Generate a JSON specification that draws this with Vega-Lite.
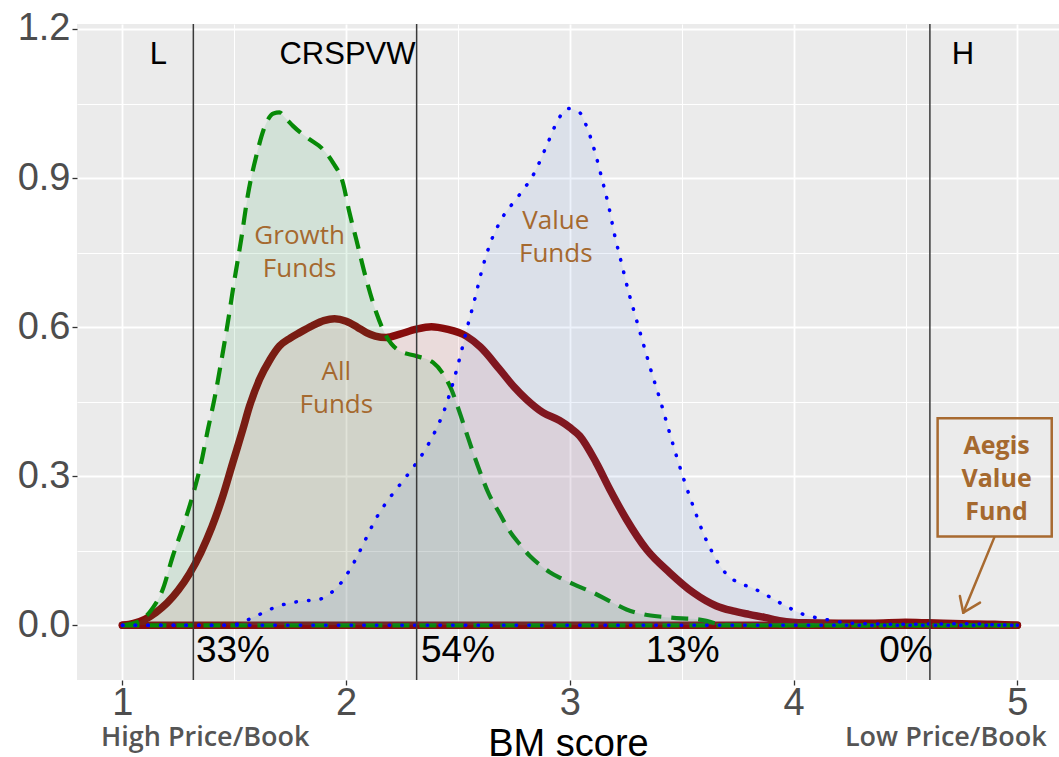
{
  "$schema": "https://vega.github.io/schema/vega-lite/v6.json",
  "width": 982,
  "height": 656,
  "autosize": {"type": "none"},
  "padding": {"left": 77, "top": 24, "right": 0, "bottom": 77},
  "background": "white",
  "config": {"view": {"fill": "#ebebeb", "stroke": null}, "font": "Liberation Sans"},
  "datasets": {
    "dens": [
      {"s":"All","x":1.0,"y":0},{"s":"All","x":1.05,"y":0.004},{"s":"All","x":1.1,"y":0.012},{"s":"All","x":1.15,"y":0.026},{"s":"All","x":1.2,"y":0.045},{"s":"All","x":1.25,"y":0.071},{"s":"All","x":1.3,"y":0.104},{"s":"All","x":1.35,"y":0.146},{"s":"All","x":1.4,"y":0.198},{"s":"All","x":1.45,"y":0.262},{"s":"All","x":1.493,"y":0.327},{"s":"All","x":1.538,"y":0.394},{"s":"All","x":1.568,"y":0.441},{"s":"All","x":1.613,"y":0.495},{"s":"All","x":1.66,"y":0.535},{"s":"All","x":1.702,"y":0.562},{"s":"All","x":1.75,"y":0.578},{"s":"All","x":1.792,"y":0.589},{"s":"All","x":1.85,"y":0.603},{"s":"All","x":1.9,"y":0.613},{"s":"All","x":1.948,"y":0.617},{"s":"All","x":2.0,"y":0.612},{"s":"All","x":2.05,"y":0.6},{"s":"All","x":2.09,"y":0.589},{"s":"All","x":2.13,"y":0.582},{"s":"All","x":2.179,"y":0.579},{"s":"All","x":2.24,"y":0.586},{"s":"All","x":2.313,"y":0.596},{"s":"All","x":2.381,"y":0.601},{"s":"All","x":2.45,"y":0.596},{"s":"All","x":2.537,"y":0.582},{"s":"All","x":2.6,"y":0.56},{"s":"All","x":2.686,"y":0.515},{"s":"All","x":2.75,"y":0.48},{"s":"All","x":2.805,"y":0.455},{"s":"All","x":2.88,"y":0.428},{"s":"All","x":2.954,"y":0.412},{"s":"All","x":3.0,"y":0.398},{"s":"All","x":3.044,"y":0.381},{"s":"All","x":3.118,"y":0.327},{"s":"All","x":3.178,"y":0.274},{"s":"All","x":3.253,"y":0.213},{"s":"All","x":3.342,"y":0.153},{"s":"All","x":3.446,"y":0.106},{"s":"All","x":3.551,"y":0.066},{"s":"All","x":3.655,"y":0.039},{"s":"All","x":3.728,"y":0.029},{"s":"All","x":3.8,"y":0.022},{"s":"All","x":3.87,"y":0.016},{"s":"All","x":3.944,"y":0.009},{"s":"All","x":4.05,"y":0.005},{"s":"All","x":4.2,"y":0.004},{"s":"All","x":4.35,"y":0.004},{"s":"All","x":4.5,"y":0.006},{"s":"All","x":4.6,"y":0.005},{"s":"All","x":4.75,"y":0.003},{"s":"All","x":4.9,"y":0.002},{"s":"All","x":5.0,"y":0},
      {"s":"Growth","x":1.0,"y":0},{"s":"Growth","x":1.05,"y":0.004},{"s":"Growth","x":1.1,"y":0.016},{"s":"Growth","x":1.136,"y":0.035},{"s":"Growth","x":1.18,"y":0.072},{"s":"Growth","x":1.225,"y":0.139},{"s":"Growth","x":1.277,"y":0.207},{"s":"Growth","x":1.322,"y":0.274},{"s":"Growth","x":1.352,"y":0.327},{"s":"Growth","x":1.382,"y":0.394},{"s":"Growth","x":1.411,"y":0.455},{"s":"Growth","x":1.441,"y":0.529},{"s":"Growth","x":1.471,"y":0.609},{"s":"Growth","x":1.501,"y":0.696},{"s":"Growth","x":1.531,"y":0.777},{"s":"Growth","x":1.56,"y":0.864},{"s":"Growth","x":1.598,"y":0.944},{"s":"Growth","x":1.643,"y":1.011},{"s":"Growth","x":1.675,"y":1.03},{"s":"Growth","x":1.702,"y":1.032},{"s":"Growth","x":1.73,"y":1.02},{"s":"Growth","x":1.762,"y":1.005},{"s":"Growth","x":1.8,"y":0.99},{"s":"Growth","x":1.836,"y":0.978},{"s":"Growth","x":1.896,"y":0.958},{"s":"Growth","x":1.941,"y":0.931},{"s":"Growth","x":1.985,"y":0.891},{"s":"Growth","x":2.015,"y":0.83},{"s":"Growth","x":2.045,"y":0.777},{"s":"Growth","x":2.09,"y":0.696},{"s":"Growth","x":2.135,"y":0.629},{"s":"Growth","x":2.179,"y":0.582},{"s":"Growth","x":2.239,"y":0.552},{"s":"Growth","x":2.313,"y":0.542},{"s":"Growth","x":2.388,"y":0.529},{"s":"Growth","x":2.448,"y":0.495},{"s":"Growth","x":2.47,"y":0.475},{"s":"Growth","x":2.506,"y":0.43},{"s":"Growth","x":2.537,"y":0.388},{"s":"Growth","x":2.589,"y":0.32},{"s":"Growth","x":2.638,"y":0.264},{"s":"Growth","x":2.686,"y":0.225},{"s":"Growth","x":2.73,"y":0.19},{"s":"Growth","x":2.776,"y":0.163},{"s":"Growth","x":2.82,"y":0.14},{"s":"Growth","x":2.865,"y":0.122},{"s":"Growth","x":2.91,"y":0.107},{"s":"Growth","x":2.954,"y":0.096},{"s":"Growth","x":3.03,"y":0.08},{"s":"Growth","x":3.103,"y":0.066},{"s":"Growth","x":3.18,"y":0.048},{"s":"Growth","x":3.253,"y":0.032},{"s":"Growth","x":3.33,"y":0.022},{"s":"Growth","x":3.416,"y":0.017},{"s":"Growth","x":3.5,"y":0.014},{"s":"Growth","x":3.551,"y":0.013},{"s":"Growth","x":3.61,"y":0.009},{"s":"Growth","x":3.65,"y":0.004},{"s":"Growth","x":3.7,"y":0.001},{"s":"Growth","x":3.8,"y":0},{"s":"Growth","x":5.0,"y":0},
      {"s":"Value","x":1.0,"y":0},{"s":"Value","x":1.45,"y":0},{"s":"Value","x":1.508,"y":0.002},{"s":"Value","x":1.57,"y":0.013},{"s":"Value","x":1.632,"y":0.026},{"s":"Value","x":1.686,"y":0.037},{"s":"Value","x":1.75,"y":0.045},{"s":"Value","x":1.806,"y":0.049},{"s":"Value","x":1.877,"y":0.052},{"s":"Value","x":1.934,"y":0.066},{"s":"Value","x":1.978,"y":0.086},{"s":"Value","x":2.015,"y":0.111},{"s":"Value","x":2.045,"y":0.135},{"s":"Value","x":2.075,"y":0.162},{"s":"Value","x":2.102,"y":0.187},{"s":"Value","x":2.131,"y":0.213},{"s":"Value","x":2.164,"y":0.237},{"s":"Value","x":2.202,"y":0.261},{"s":"Value","x":2.242,"y":0.284},{"s":"Value","x":2.28,"y":0.306},{"s":"Value","x":2.319,"y":0.33},{"s":"Value","x":2.354,"y":0.354},{"s":"Value","x":2.385,"y":0.379},{"s":"Value","x":2.413,"y":0.405},{"s":"Value","x":2.437,"y":0.431},{"s":"Value","x":2.458,"y":0.459},{"s":"Value","x":2.477,"y":0.487},{"s":"Value","x":2.51,"y":0.542},{"s":"Value","x":2.541,"y":0.599},{"s":"Value","x":2.574,"y":0.655},{"s":"Value","x":2.604,"y":0.71},{"s":"Value","x":2.641,"y":0.765},{"s":"Value","x":2.694,"y":0.817},{"s":"Value","x":2.771,"y":0.864},{"s":"Value","x":2.843,"y":0.912},{"s":"Value","x":2.895,"y":0.964},{"s":"Value","x":2.947,"y":1.017},{"s":"Value","x":2.989,"y":1.04},{"s":"Value","x":3.041,"y":1.033},{"s":"Value","x":3.071,"y":1.008},{"s":"Value","x":3.111,"y":0.954},{"s":"Value","x":3.144,"y":0.897},{"s":"Value","x":3.174,"y":0.842},{"s":"Value","x":3.2,"y":0.785},{"s":"Value","x":3.23,"y":0.73},{"s":"Value","x":3.261,"y":0.673},{"s":"Value","x":3.296,"y":0.617},{"s":"Value","x":3.331,"y":0.562},{"s":"Value","x":3.367,"y":0.506},{"s":"Value","x":3.405,"y":0.451},{"s":"Value","x":3.44,"y":0.396},{"s":"Value","x":3.476,"y":0.341},{"s":"Value","x":3.515,"y":0.286},{"s":"Value","x":3.558,"y":0.231},{"s":"Value","x":3.604,"y":0.177},{"s":"Value","x":3.633,"y":0.15},{"s":"Value","x":3.662,"y":0.126},{"s":"Value","x":3.7,"y":0.103},{"s":"Value","x":3.752,"y":0.086},{"s":"Value","x":3.812,"y":0.076},{"s":"Value","x":3.87,"y":0.063},{"s":"Value","x":3.928,"y":0.048},{"s":"Value","x":3.99,"y":0.033},{"s":"Value","x":4.044,"y":0.022},{"s":"Value","x":4.106,"y":0.015},{"s":"Value","x":4.167,"y":0.01},{"s":"Value","x":4.236,"y":0.005},{"s":"Value","x":4.35,"y":0.003},{"s":"Value","x":4.5,"y":0.002},{"s":"Value","x":4.7,"y":0.003},{"s":"Value","x":4.8,"y":0.003},{"s":"Value","x":4.9,"y":0.001},{"s":"Value","x":5.0,"y":0}
    ],
    "base": [
      {"s":"All","x":1,"x2":5,"y":0},
      {"s":"Growth","x":1,"x2":5,"y":0},
      {"s":"Value","x":1,"x2":5,"y":0}
    ],
    "vlines": [
      {"x":1.317,"y":-0.11,"y2":1.21},
      {"x":2.315,"y":-0.11,"y2":1.21},
      {"x":4.609,"y":-0.11,"y2":1.21}
    ],
    "labels": [
      {"g":"top","t":"L","x":1.161,"y":1.147},
      {"g":"top","t":"CRSPVW","x":2.006,"y":1.147},
      {"g":"top","t":"H","x":4.757,"y":1.147},
      {"g":"pct","t":"33%","x":1.494,"y":-0.052},
      {"g":"pct","t":"54%","x":2.5,"y":-0.052},
      {"g":"pct","t":"13%","x":3.504,"y":-0.052},
      {"g":"pct","t":"0%","x":4.502,"y":-0.052},
      {"g":"fund","t":"Growth\nFunds","x":1.792,"y":0.783},
      {"g":"fund","t":"Value\nFunds","x":2.937,"y":0.8135},
      {"g":"fund","t":"All\nFunds","x":1.956,"y":0.509},
      {"g":"aegis","t":"Aegis\nValue\nFund","x":4.907,"y":0.3608},
      {"g":"pb","t":"High Price/Book","x":1.37,"y":-0.2274},
      {"g":"pb","t":"Low Price/Book","x":4.68,"y":-0.2274}
    ],
    "box": [{"x":4.6435,"x2":5.1535,"y":0.1785,"y2":0.4165}],
    "arrow": [
      {"x":4.897,"y":0.177,"x2":4.758,"y2":0.0255},
      {"x":4.743,"y":0.059,"x2":4.758,"y2":0.0255},
      {"x":4.833,"y":0.0457,"x2":4.758,"y2":0.0255}
    ]
  },
  "encoding": {
    "x": {
      "field": "x", "type": "quantitative",
      "scale": {"domain": [0.797, 5.186], "nice": false, "zero": false},
      "axis": {
        "values": [1, 1.5, 2, 2.5, 3, 3.5, 4, 4.5, 5],
        "labelExpr": "datum.value % 1 === 0 ? format(datum.value, 'd') : ''",
        "domain": false,
        "grid": true,
        "gridColor": "#ffffff",
        "gridWidth": {"condition": {"test": "datum.value % 1 === 0", "value": 1.8}, "value": 1},
        "tickColor": "#333333",
        "tickWidth": 1.3,
        "tickOpacity": {"condition": {"test": "datum.value % 1 === 0", "value": 1}, "value": 0},
        "tickSize": 5,
        "labelFont": "Liberation Sans",
        "labelFontSize": 38,
        "labelColor": "#4d4d4d",
        "labelPadding": -1,
        "labelFlush": false,
        "labelOverlap": false,
        "title": "BM score",
        "titleFont": "Liberation Sans",
        "titleFontSize": 38,
        "titleFontWeight": "normal",
        "titleColor": "#000000",
        "titlePadding": 3
      }
    },
    "y": {
      "field": "y", "type": "quantitative",
      "scale": {"domain": [-0.11, 1.21], "nice": false, "zero": false},
      "axis": {
        "values": [0, 0.15, 0.3, 0.45, 0.6, 0.75, 0.9, 1.05, 1.2],
        "labelExpr": "round(datum.value * 100) % 30 === 0 ? format(datum.value, '.1f') : ''",
        "domain": false,
        "grid": true,
        "gridColor": "#ffffff",
        "gridWidth": {"condition": {"test": "round(datum.value * 100) % 30 === 0", "value": 1.8}, "value": 1},
        "tickColor": "#333333",
        "tickWidth": 1.3,
        "tickOpacity": {"condition": {"test": "round(datum.value * 100) % 30 === 0", "value": 1}, "value": 0},
        "tickSize": 5,
        "labelFont": "Liberation Sans",
        "labelFontSize": 38,
        "labelColor": "#4d4d4d",
        "labelPadding": 2,
        "labelFlush": false,
        "labelOverlap": false,
        "title": null
      }
    }
  },
  "layer": [
    {
      "data": {"name": "dens"},
      "transform": [{"filter": "datum.s === 'All'"}],
      "mark": {"type": "area", "fill": "#e05050", "fillOpacity": 0.1, "interpolate": "monotone"},
      "encoding": {"y2": {"datum": 0}}
    },
    {
      "data": {"name": "dens"},
      "transform": [{"filter": "datum.s === 'All'"}],
      "mark": {"type": "line", "stroke": "#860c0c", "strokeWidth": 7.5, "strokeCap": "round", "strokeJoin": "round", "interpolate": "monotone"}
    },
    {
      "data": {"name": "base"},
      "transform": [{"filter": "datum.s === 'All'"}],
      "mark": {"type": "rule", "stroke": "#860c0c", "strokeWidth": 7.5, "strokeCap": "round"},
      "encoding": {"x2": {"field": "x2"}}
    },
    {
      "data": {"name": "dens"},
      "transform": [{"filter": "datum.s === 'Growth'"}],
      "mark": {"type": "area", "fill": "#22a04a", "fillOpacity": 0.12, "interpolate": "monotone"},
      "encoding": {"y2": {"datum": 0}}
    },
    {
      "data": {"name": "dens"},
      "transform": [{"filter": "datum.s === 'Growth'"}],
      "mark": {"type": "line", "stroke": "#078a07", "strokeWidth": 4.2, "strokeDash": [17, 10], "interpolate": "monotone"}
    },
    {
      "data": {"name": "base"},
      "transform": [{"filter": "datum.s === 'Growth'"}],
      "mark": {"type": "rule", "stroke": "#078a07", "strokeWidth": 4.2, "strokeDash": [17, 10]},
      "encoding": {"x2": {"field": "x2"}}
    },
    {
      "data": {"name": "dens"},
      "transform": [{"filter": "datum.s === 'Value'"}],
      "mark": {"type": "area", "fill": "#4a7fd8", "fillOpacity": 0.1, "interpolate": "monotone"},
      "encoding": {"y2": {"datum": 0}}
    },
    {
      "data": {"name": "dens"},
      "transform": [{"filter": "datum.s === 'Value'"}],
      "mark": {"type": "line", "stroke": "#0000ff", "strokeWidth": 3.5, "strokeDash": [0.5, 12.2], "strokeCap": "round", "interpolate": "monotone"}
    },
    {
      "data": {"name": "base"},
      "transform": [{"filter": "datum.s === 'Value'"}],
      "mark": {"type": "rule", "stroke": "#0000ff", "strokeWidth": 3.5, "strokeDash": [0.5, 12.2], "strokeCap": "round"},
      "encoding": {"x2": {"field": "x2"}}
    },
    {
      "data": {"name": "vlines"},
      "mark": {"type": "rule", "stroke": "#3a3a3a", "strokeWidth": 1.5},
      "encoding": {"y2": {"field": "y2"}}
    },
    {
      "data": {"name": "labels"},
      "transform": [{"filter": "datum.g === 'top'"}],
      "mark": {"type": "text", "font": "Liberation Sans", "fontSize": 31, "color": "#000000", "align": "center", "baseline": "middle"},
      "encoding": {"text": {"field": "t"}}
    },
    {
      "data": {"name": "labels"},
      "transform": [{"filter": "datum.g === 'pct'"}],
      "mark": {"type": "text", "font": "Liberation Sans", "fontSize": 37, "color": "#000000", "align": "center", "baseline": "middle"},
      "encoding": {"text": {"field": "t"}}
    },
    {
      "data": {"name": "labels"},
      "transform": [{"filter": "datum.g === 'fund'"}],
      "mark": {"type": "text", "font": "Open Sans", "fontSize": 26, "color": "#a5692f", "align": "center", "baseline": "middle", "lineBreak": "\n", "lineHeight": 33},
      "encoding": {"text": {"field": "t"}}
    },
    {
      "data": {"name": "labels"},
      "transform": [{"filter": "datum.g === 'aegis'"}],
      "mark": {"type": "text", "font": "Open Sans", "fontSize": 25, "fontWeight": "bold", "color": "#a5692f", "align": "center", "baseline": "middle", "lineBreak": "\n", "lineHeight": 33},
      "encoding": {"text": {"field": "t"}}
    },
    {
      "data": {"name": "labels"},
      "transform": [{"filter": "datum.g === 'pb'"}],
      "mark": {"type": "text", "font": "Open Sans", "fontSize": 27, "fontWeight": 600, "color": "#555555", "align": "center", "baseline": "middle"},
      "encoding": {"text": {"field": "t"}}
    },
    {
      "data": {"name": "box"},
      "mark": {"type": "rect", "fill": null, "fillOpacity": 0, "stroke": "#a86a30", "strokeWidth": 2.5},
      "encoding": {"x2": {"field": "x2"}, "y2": {"field": "y2"}}
    },
    {
      "data": {"name": "arrow"},
      "mark": {"type": "rule", "stroke": "#a86a30", "strokeWidth": 2.5, "strokeCap": "round"},
      "encoding": {"x2": {"field": "x2"}, "y2": {"field": "y2"}}
    }
  ]
}
